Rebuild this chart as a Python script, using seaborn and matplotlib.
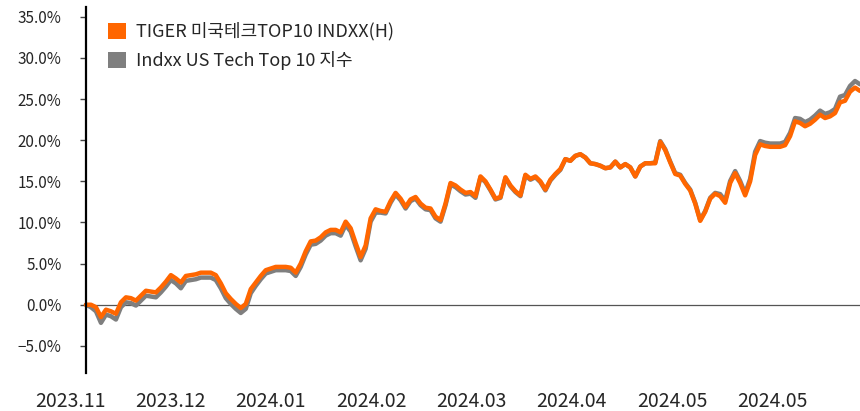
#import libraries
import numpy as np
import pandas as pd
import matplotlib
matplotlib.use('Agg')
import matplotlib.pyplot as plt
from matplotlib.patches import Patch
import seaborn as sns

#series names and month labels
tiger_name = 'TIGER 미국테크TOP10 INDXX(H)'
indxx_name = 'Indxx US Tech Top 10 지수'
month_labels = ['2023.11', '2023.12', '2024.01', '2024.02',
                '2024.03', '2024.04', '2024.05', '2024.05']

#cumulative return (%), one value per trading day
tiger = [
    0.0, 0.0, -0.3, -1.5, -0.6, -0.8, -1.1, 0.3, 0.9, 0.8,
    0.5, 1.1, 1.7, 1.6, 1.5, 2.1, 2.8, 3.6, 3.2, 2.7,
    3.5, 3.6, 3.7, 3.9, 3.9, 3.9, 3.6, 2.6, 1.4, 0.7,
    0.1, -0.4, 0.1, 1.9, 2.7, 3.5, 4.2, 4.4, 4.6, 4.6,
    4.6, 4.5, 3.9, 5.0, 6.5, 7.7, 7.8, 8.2, 8.8, 9.1,
    9.1, 8.8, 10.1, 9.3, 7.5, 5.8, 7.2, 10.5, 11.6, 11.4,
    11.3, 12.6, 13.6, 12.9, 11.9, 12.8, 13.1, 12.3, 11.8, 11.7,
    10.7, 10.3, 12.3, 14.8, 14.5, 14.0, 13.6, 13.7, 13.2, 15.6,
    15.0, 14.0, 12.9, 13.1, 15.5, 14.5, 13.8, 13.3, 15.8, 15.3,
    15.6, 15.0, 14.0, 15.2, 15.9, 16.5, 17.7, 17.5, 18.1, 18.3,
    17.9, 17.2, 17.1, 16.9, 16.6, 16.7, 17.4, 16.7, 17.1, 16.7,
    15.6, 16.8, 17.2, 17.2, 17.2, 19.8, 18.8, 17.3, 15.9, 15.7,
    14.7, 13.9, 12.3, 10.2, 11.3, 12.9, 13.5, 13.2, 12.4, 14.8,
    16.0, 14.8, 13.3, 15.0, 18.2, 19.5, 19.3, 19.2, 19.2, 19.2,
    19.4, 20.5, 22.3, 22.1, 21.7, 22.0, 22.5, 23.1, 22.7, 22.9,
    23.3, 24.6, 24.8, 25.9, 26.4, 26.0,
]
indxx = [
    0.0, -0.3, -0.8, -2.2, -1.2, -1.4, -1.8, -0.3, 0.3, 0.2,
    -0.1, 0.5, 1.1, 1.0, 0.9, 1.5, 2.2, 3.0, 2.6, 2.0,
    2.9, 3.0, 3.1, 3.3, 3.3, 3.3, 3.0, 2.0, 0.8, 0.1,
    -0.5, -1.0, -0.5, 1.4, 2.3, 3.1, 3.8, 4.0, 4.2, 4.2,
    4.2, 4.1, 3.5, 4.6, 6.1, 7.3, 7.4, 7.8, 8.4, 8.7,
    8.7, 8.4, 9.7, 8.9, 7.1, 5.4, 6.8, 10.1, 11.2, 11.2,
    11.1, 12.4, 13.4, 12.7, 11.7, 12.6, 12.9, 12.1, 11.6, 11.5,
    10.5, 10.1, 12.1, 14.6, 14.3, 13.8, 13.4, 13.5, 13.0, 15.5,
    14.9, 13.9, 12.8, 13.0, 15.4, 14.4, 13.7, 13.2, 15.7, 15.2,
    15.5, 14.9, 13.9, 15.1, 15.8, 16.4, 17.7, 17.5, 18.1, 18.3,
    17.9, 17.2, 17.1, 16.9, 16.6, 16.7, 17.4, 16.7, 17.1, 16.7,
    15.6, 16.8, 17.2, 17.2, 17.3, 19.9, 18.9, 17.4, 16.0, 15.8,
    14.8, 14.0, 12.4, 10.3, 11.4, 13.0, 13.6, 13.45, 12.65, 15.05,
    16.25, 15.05, 13.55, 15.3, 18.6, 19.9, 19.7, 19.6, 19.6, 19.6,
    19.8, 20.9, 22.7, 22.6, 22.2, 22.5, 23.0, 23.6, 23.2, 23.4,
    23.8, 25.3, 25.5, 26.6, 27.2, 26.8,
]

orange = '#FF6600'
gray = '#7F7F7F'
text_color = '#262626'

sns.set_theme(style='white')
plt.rcParams['font.family'] = ['Noto Sans CJK KR', 'DejaVu Sans']
plt.rcParams['axes.unicode_minus'] = True

df = pd.DataFrame({'day': np.arange(len(tiger)), tiger_name: tiger, indxx_name: indxx})
long_df = df.melt(id_vars='day', var_name='series', value_name='ret')

fig = plt.figure(figsize=(8.6, 4.11), dpi=100)
ax = fig.add_axes([68.5 / 860, 38 / 411, 791.5 / 860, 366 / 411])

sns.lineplot(data=long_df, x='day', y='ret', hue='series',
             hue_order=[indxx_name, tiger_name], palette=[gray, orange],
             linewidth=3.2, legend=False, ax=ax)

#zero reference line
ax.hlines(0, 0, len(tiger) - 1, color='#555555', linewidth=0.9, zorder=1)

ax.set_xlim(-3.5, 155)
ax.set_ylim(-8.3, 36.2)

#y axis
yt = np.arange(-5, 36, 5)
ax.set_yticks(yt)
ax.set_yticklabels([f'{v:.1f}%'.replace('-', '\u2212') for v in yt],
                   fontsize=13.5, color=text_color)
ax.spines['left'].set_position(('data', 0))
ax.spines['left'].set_color('black')
ax.spines['left'].set_linewidth(1.6)
ax.tick_params(axis='y', length=4.5, width=1, color='#444444', pad=13, left=True)

#x axis month labels
xt = -3.2 + 20.1 * np.arange(len(month_labels))
ax.set_xticks(xt)
ax.set_xticklabels(month_labels, fontsize=14, color=text_color)
ax.tick_params(axis='x', length=0, pad=13)

for s in ['top', 'right', 'bottom']:
    ax.spines[s].set_visible(False)
ax.set_xlabel('')
ax.set_ylabel('')

handles = [Patch(facecolor=orange, edgecolor='none', label=tiger_name),
           Patch(facecolor=gray, edgecolor='none', label=indxx_name)]
leg = ax.legend(handles=handles, loc='upper left', bbox_to_anchor=(0.05, 0.958),
                frameon=False, fontsize=13, handlelength=1.0, handleheight=1.0,
                handletextpad=0.55, labelspacing=0.55, borderpad=0, borderaxespad=0)
for t in leg.get_texts():
    t.set_color(text_color)

fig.savefig('out.png', dpi=100)
